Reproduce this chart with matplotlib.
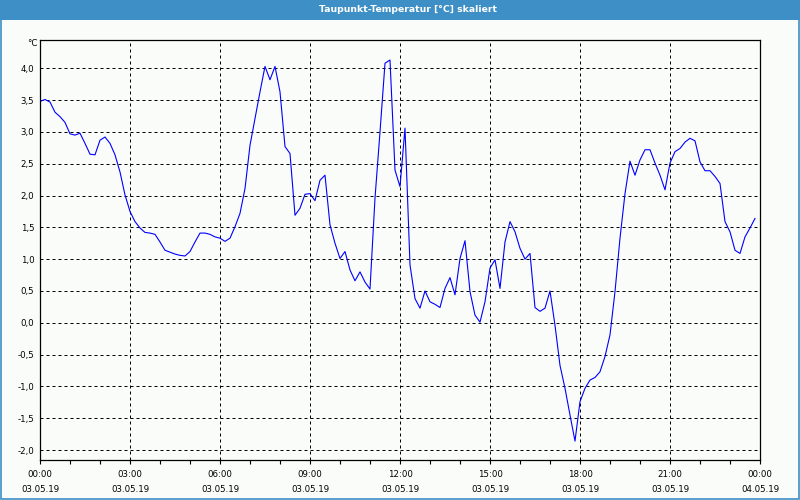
import matplotlib.pyplot as plt
import numpy as np
from matplotlib.patches import Rectangle

# 10-minute dew point readings, 03.05.19 00:00 .. 23:50
dew_point = [
    3.48, 3.51, 3.47, 3.31, 3.24, 3.15, 2.97, 2.95, 2.98, 2.82, 2.65, 2.64,
    2.87, 2.92, 2.82, 2.64, 2.37, 2.01, 1.75, 1.59, 1.49, 1.42, 1.41, 1.39,
    1.27, 1.14, 1.11, 1.08, 1.06, 1.05, 1.12, 1.27, 1.41, 1.41, 1.39, 1.35,
    1.33, 1.28, 1.33, 1.51, 1.72, 2.11, 2.79, 3.21, 3.63, 4.03, 3.82, 4.03,
    3.63, 2.77, 2.66, 1.69, 1.80, 2.02, 2.03, 1.92, 2.24, 2.32, 1.54, 1.25,
    1.01, 1.12, 0.83, 0.66, 0.80, 0.64, 0.53, 1.96, 3.00, 4.08, 4.13, 2.40,
    2.14, 3.06, 0.91, 0.38, 0.23, 0.50, 0.33, 0.29, 0.24, 0.54, 0.71, 0.44,
    1.01, 1.29, 0.49, 0.12, 0.01, 0.33, 0.86, 0.99, 0.54, 1.27, 1.59, 1.43,
    1.17, 1.00, 1.09, 0.24, 0.18, 0.23, 0.50, -0.04, -0.67, -1.03, -1.45, -1.86,
    -1.24, -1.03, -0.90, -0.86, -0.77, -0.53, -0.19, 0.49, 1.33, 2.03, 2.54, 2.32,
    2.56, 2.72, 2.72, 2.51, 2.32, 2.09, 2.51, 2.69, 2.74, 2.84, 2.90, 2.86,
    2.53, 2.39, 2.39, 2.30, 2.19, 1.59, 1.43, 1.14, 1.09, 1.35, 1.49, 1.64,
]
hours = np.arange(len(dew_point)) / 6.0

tick_hours = [0, 3, 6, 9, 12, 15, 18, 21, 24]
tick_times = ["00:00", "03:00", "06:00", "09:00", "12:00", "15:00", "18:00", "21:00", "00:00"]
tick_dates = ["03.05.19"] * 8 + ["04.05.19"]
y_ticks = [-2.0, -1.5, -1.0, -0.5, 0.0, 0.5, 1.0, 1.5, 2.0, 2.5, 3.0, 3.5, 4.0]

bg = "#fafcfa"
bar_blue = "#3d8fc6"
plt.rcParams['font.family'] = ['DejaVu Sans']

fig = plt.figure(figsize=(8, 5), dpi=100, facecolor=bg)
ax = fig.add_axes([40/800, 40/500, 720/800, 420/500], facecolor=bg)

ax.plot(hours, dew_point, color="#0000ff", lw=0.8)

ax.set_xlim(0, 24)
ax.set_ylim(-2.157, 4.445)

ax.set_xticks(tick_hours)
ax.set_xticklabels([f"{t}\n{d}" for t, d in zip(tick_times, tick_dates)])
ax.set_xticks(np.arange(0, 25, 1), minor=True)
for lab in ax.get_xticklabels():
    lab.set_linespacing(1.9)
ax.tick_params(axis="x", which="both", length=3, width=0.8, direction="out",
               labelsize=6.2, pad=4)

ax.set_yticks(y_ticks)
ax.set_yticklabels([f"{v:.1f}".replace(".", ",") for v in y_ticks])
ax.tick_params(axis="y", length=0, labelsize=6.2, pad=4)

ax.grid(True, which="major", color="black", lw=0.72, linestyle=(0, (3, 3)))
for sp in ax.spines.values():
    sp.set_linewidth(0.9)
    sp.set_color("black")

fig.text(38/800, 1 - 44/500, "°C", ha="right", va="center", fontsize=6.2)

# title bar and window border
fig.patches.append(Rectangle((0, 1 - 20/500), 1, 20/500, transform=fig.transFigure,
                             facecolor=bar_blue, edgecolor="none", zorder=0))
fig.patches.append(Rectangle((0.001, 0.002), 0.998, 0.99, transform=fig.transFigure,
                             facecolor="none", edgecolor=bar_blue, lw=1.2, zorder=1))
fig.text(408/800, 1 - 10/500, "Taupunkt-Temperatur [°C] skaliert", ha="center", va="center",
         color="white", fontsize=6.7, fontweight="bold")

fig.savefig("out.png", dpi=100, facecolor=bg)
